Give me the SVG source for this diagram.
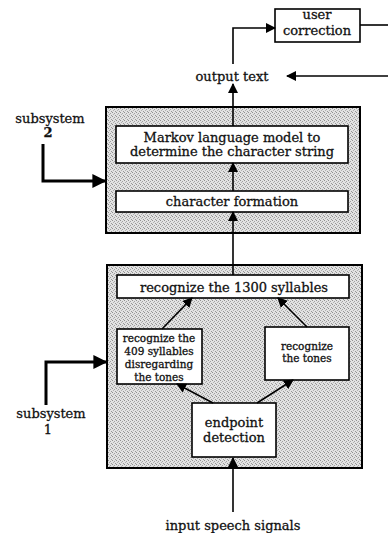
<svg xmlns="http://www.w3.org/2000/svg" width="388" height="533" viewBox="0 0 388 533">
<defs>
<pattern id="stip" width="4" height="4" patternUnits="userSpaceOnUse">
<rect width="4" height="4" fill="#e2e2e2"/>
<rect x="0" y="0" width="1" height="1" fill="#909090"/>
<rect x="2" y="1" width="1" height="1" fill="#a0a0a0"/>
<rect x="1" y="2" width="1" height="1" fill="#b0b0b0"/>
<rect x="3" y="3" width="1" height="1" fill="#989898"/>
</pattern>
<marker id="ah" markerWidth="10" markerHeight="10" viewBox="0 0 10 10" refX="9" refY="5" orient="auto" markerUnits="userSpaceOnUse">
<path d="M0,0 L10,5 L0,10 Z" fill="#000"/>
</marker>
<marker id="ahb" markerWidth="14" markerHeight="14" viewBox="0 0 10 10" refX="9" refY="5" orient="auto" markerUnits="userSpaceOnUse">
<path d="M0,0 L10,5 L0,10 Z" fill="#000"/>
</marker>
</defs>
<style>
text{font-family:"DejaVu Serif","Liberation Serif",serif;fill:#111;stroke:#111;stroke-width:0.3;text-anchor:middle}
.t{font-size:13px}
.s{font-size:10.5px}
.big{fill:url(#stip);stroke:#000;stroke-width:2}
.box{fill:#fff;stroke:#000;stroke-width:1.6}
.c{fill:none;stroke:#000;stroke-width:1.6}
.k{fill:none;stroke:#000;stroke-width:3}
</style>
<rect width="388" height="533" fill="#fff"/>

<g id="subsystem2">
<rect class="big" x="106" y="107" width="254" height="126"/>
</g>
<g id="subsystem1">
<rect class="big" x="107" y="265" width="255" height="203"/>
</g>

<g id="user-correction">
<rect class="box" x="275" y="9" width="85" height="33"/>
<text class="t" x="317" y="19">user</text>
<text class="t" x="317" y="35">correction</text>
</g>
<g id="output-text">
<text class="t" x="232" y="81">output text</text>
</g>
<g id="markov">
<rect class="box" x="116" y="126" width="232" height="37"/>
<text class="t" x="232" y="142">Markov language model to</text>
<text class="t" x="232" y="156">determine the character string</text>
</g>
<g id="character-formation">
<rect class="box" x="116" y="191" width="232" height="21"/>
<text class="t" x="232" y="206">character formation</text>
</g>
<g id="recognize-1300">
<rect class="box" x="117" y="275" width="232" height="23"/>
<text class="t" x="234" y="292">recognize the 1300 syllables</text>
</g>
<g id="recognize-409">
<rect class="box" x="117" y="329" width="85" height="55"/>
<text class="s" x="159" y="342">recognize the</text>
<text class="s" x="159" y="355">409 syllables</text>
<text class="s" x="159" y="368">disregarding</text>
<text class="s" x="159" y="381">the tones</text>
</g>
<g id="recognize-tones">
<rect class="box" x="265" y="327" width="84" height="53"/>
<text class="s" x="307" y="350">recognize</text>
<text class="s" x="307" y="362">the tones</text>
</g>
<g id="endpoint">
<rect class="box" x="192" y="403" width="84" height="54"/>
<text class="t" x="234" y="427">endpoint</text>
<text class="t" x="234" y="442">detection</text>
</g>
<g id="input">
<text class="t" x="233" y="530">input speech signals</text>
</g>
<g id="label-subsystem2">
<text class="t" x="50" y="123">subsystem</text>
<text class="t" x="48" y="137" font-weight="bold">2</text>
</g>
<g id="label-subsystem1">
<text class="t" x="51" y="418">subsystem</text>
<text class="t" x="48" y="434">1</text>
</g>

<g id="connectors">
<path class="c" d="M233,512 V458" marker-end="url(#ah)"/>
<path class="c" d="M213,403 L177,384" marker-end="url(#ah)"/>
<path class="c" d="M257,403 L293,380" marker-end="url(#ah)"/>
<path class="c" d="M162,329 L192,298" marker-end="url(#ah)"/>
<path class="c" d="M307,327 L278,298" marker-end="url(#ah)"/>
<path class="c" d="M233,275 V212" marker-end="url(#ah)"/>
<path class="c" d="M233,191 V163" marker-end="url(#ah)"/>
<path class="c" d="M233,126 V84" marker-end="url(#ah)"/>
<path class="c" d="M233,64 V28 H275" marker-end="url(#ah)"/>
<path class="c" d="M360,25 H388"/>
<path class="c" d="M388,76 H287" marker-end="url(#ah)"/>
<path class="k" d="M43,144 V181 H105" marker-end="url(#ahb)"/>
<path class="k" d="M46,405 V362 H106" marker-end="url(#ahb)"/>
</g>
</svg>
